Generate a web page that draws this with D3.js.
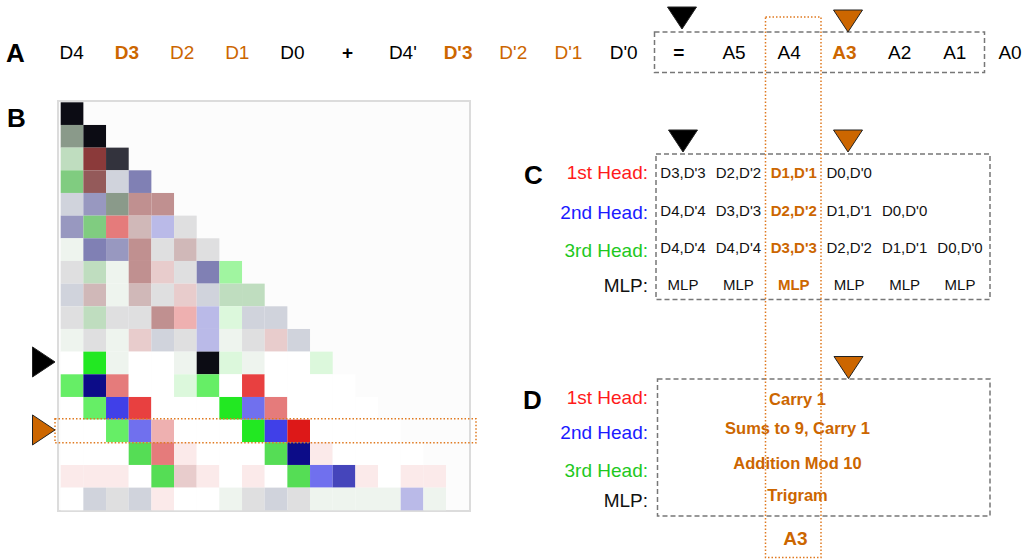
<html>
<head>
<meta charset="utf-8">
<title>Addition circuit</title>
<script src="https://d3js.org/d3.v7.min.js"></script>
<style>
  body { margin: 0; background: #fff; }
  text { font-family: "Liberation Sans", Arial, sans-serif; }
</style>
</head>
<body>
<svg width="1028" height="559"></svg>
<script>
// ---- data ----
var tokensA = ["D4","D3","D2","D1","D0","+","D4'","D'3","D'2","D'1","D'0","=","A5","A4","A3","A2","A1","A0"];
var keyTokens = ["D3","D'3","A3"];          // bold orange
var relatedTokens = ["D2","D1","D'2","D'1"]; // orange
var opTokens = ["+","="];                    // bold black

var heads = ["1st Head:","2nd Head:","3rd Head:","MLP:"];
var headColors = ["#ff1a1a","#1a1aff","#1ec81e","#111"];

var head1 = ["D3,D'3","D2,D'2","D1,D'1","D0,D'0"];
var head2 = ["D4,D'4","D3,D'3","D2,D'2","D1,D'1","D0,D'0"];
var head3 = ["D4,D'4","D4,D'4","D3,D'3","D2,D'2","D1,D'1","D0,D'0"];
var mlpRow = ["MLP","MLP","MLP","MLP","MLP","MLP"];
var focusCol = 2;

var features = ["Carry 1","Sums to 9, Carry 1","Addition Mod 10","Trigram"];
var answer = "A3";

// attention pattern, one code per cell (lower triangle)
var attn = [
  "K",
  "qK",
  "mDk",
  "gdtP",
  "tpqrr",
  "pgfwvs",
  "ePprsws",
  "smerxsPl",
  "twewsxtmm",
  "smssrivntt",
  "esextsvesxt",
  ".Ge..eKne..n",
  "hNf..nh.R....",
  ".hBR...Gbf....",
  "..hbi...GBS....",
  "...jfy...jNy....",
  "yyy.jxy.y.jboy.yy",
  ".tsty..estseeeeve"
];
var markRow = 11, focusRow = 14;

var cellCodes = [".","K","k","q","m","g","G","h","j","l","n","e","s","t","P","p","v","b","B","N","o","D","d","r","w","x","y","R","S","f","i"];
var cellColors = ["#ffffff","#0c0c14","#33333d","#8a9a8a","#bfddbf","#80cc80","#22e822","#66ee66","#55dd55","#a0f5a0","#dcf8dc","#eef4ee","#dfdfe0","#d0d3dc","#8080b4","#9898c0","#babae8","#7070ee","#4040e8","#0c0c88","#4545bb","#8b3a3a","#945a5a","#c09090","#d0b8b8","#e8cccc","#fbeaea","#e84040","#dd1818","#e57b7b","#eeb0b0"];

// ---- drawing ----
var orange = "#cc6600";
var svg = d3.select("svg");
var color = d3.scaleOrdinal().domain(cellCodes).range(cellColors);

function tri(g, cx, cy, dir, fill) {
  // dir "down": tip at (cx,cy); "right": tip at (cx,cy)
  var pts = dir == "down"
    ? [[cx-14.5,cy-22],[cx+14.5,cy-22],[cx,cy]]
    : [[cx-22.5,cy-15],[cx-22.5,cy+15],[cx,cy]];
  g.append("path").attr("d", d3.line()(pts) + "Z")
    .attr("fill", fill).attr("stroke","#222").attr("stroke-width",1);
}

function panelLetter(t, x, y) {
  svg.append("text").attr("x",x).attr("y",y).text(t)
    .attr("font-size",26).attr("font-weight","bold").attr("fill","#000");
}

// --- A ---
panelLetter("A", 6, 62);
var xA = d3.scalePoint().domain(d3.range(tokensA.length)).range([71.7, 1010]);
svg.append("g").selectAll("text").data(tokensA).join("text")
  .attr("x",(d,i)=>xA(i)).attr("y",52)
  .attr("text-anchor","middle").attr("dominant-baseline","central")
  .attr("font-size",19)
  .attr("font-weight",d=>keyTokens.includes(d)||opTokens.includes(d)?"bold":"normal")
  .attr("fill",d=>keyTokens.includes(d)||relatedTokens.includes(d)?orange:"#000")
  .text(d=>d);

var dashed = {stroke:"#777","stroke-width":1.5,"stroke-dasharray":"5,3",fill:"none"};
function dashRect(x0,y0,x1,y1) {
  var r = svg.append("rect").attr("x",x0).attr("y",y0).attr("width",x1-x0).attr("height",y1-y0);
  for (var k in dashed) r.attr(k, dashed[k]);
}
dashRect(654.5,32,984.5,72.5);
tri(svg, 682, 29, "down", "#000");
tri(svg, 848, 32, "down", orange);

// --- B heatmap ---
panelLetter("B", 7, 127);
var n = attn.length;
var xB = d3.scaleBand().domain(d3.range(n)).range([60.7, 468.7]);
var yB = d3.scaleBand().domain(d3.range(n)).range([102.3, 510.3]);
svg.append("rect").attr("x",58).attr("y",101).attr("width",412).attr("height",410)
  .attr("fill","#fcfcfc").attr("stroke","#dcdcdc").attr("stroke-width",2);
var cells = [];
attn.forEach(function(row, r) {
  row.split("").forEach(function(c, col) { cells.push({r:r, c:col, code:c}); });
});
svg.append("g").selectAll("rect").data(cells).join("rect")
  .attr("x",d=>xB(d.c)).attr("y",d=>yB(d.r))
  .attr("width",xB.bandwidth()).attr("height",yB.bandwidth())
  .attr("fill",d=>color(d.code));

svg.append("rect").attr("x",55).attr("y",yB(focusRow)-1).attr("width",421).attr("height",yB.bandwidth()+1.5)
  .attr("fill","none").attr("stroke","#e07a20").attr("stroke-width",1.5).attr("stroke-dasharray","1.5,2");
tri(svg, 55, yB(markRow)+yB.bandwidth()/2-1, "right", "#000");
tri(svg, 55, yB(focusRow)+yB.bandwidth()/2-1, "right", orange);

// --- C ---
panelLetter("C", 524, 184);
var yLabC = d3.scaleOrdinal().domain(heads).range([172.3, 212.3, 250, 285.7]);
svg.append("g").selectAll("text").data(heads).join("text")
  .attr("x",648).attr("y",d=>yLabC(d))
  .attr("text-anchor","end").attr("dominant-baseline","central")
  .attr("font-size",19).attr("fill",(d,i)=>headColors[i]).text(d=>d);

var xC = d3.scalePoint().domain(d3.range(6)).range([683, 960]);
var yC = d3.scalePoint().domain(d3.range(4)).range([172.8, 284.5]);
[head1, head2, head3, mlpRow].forEach(function(row, r) {
  svg.append("g").selectAll("text").data(row).join("text")
    .attr("x",(d,i)=>xC(i)).attr("y",yC(r))
    .attr("text-anchor","middle").attr("dominant-baseline","central")
    .attr("font-size",15)
    .attr("font-weight",(d,i)=>i==focusCol?"bold":"normal")
    .attr("fill",(d,i)=>i==focusCol?orange:"#111")
    .text(d=>d);
});
dashRect(656,154,990,299.5);
tri(svg, 683, 152, "down", "#000");
tri(svg, 848, 152, "down", orange);

// --- D ---
panelLetter("D", 523, 409);
var yLabD = d3.scaleOrdinal().domain(heads).range([397.5, 432, 470, 500.5]);
svg.append("g").selectAll("text").data(heads).join("text")
  .attr("x",648).attr("y",d=>yLabD(d))
  .attr("text-anchor","end").attr("dominant-baseline","central")
  .attr("font-size",19).attr("fill",(d,i)=>headColors[i]).text(d=>d);

var yFeat = d3.scaleOrdinal().domain(features).range([398.5, 427.5, 462.5, 494.5]);
svg.append("g").selectAll("text").data(features).join("text")
  .attr("x",797.5).attr("y",d=>yFeat(d))
  .attr("text-anchor","middle").attr("dominant-baseline","central")
  .attr("font-size",16.5).attr("font-weight","bold").attr("fill",orange)
  .text(d=>d);
dashRect(657.5,379,990,516);
tri(svg, 848.5, 378.5, "down", orange);

svg.append("text").attr("x",795.5).attr("y",538.5)
  .attr("text-anchor","middle").attr("dominant-baseline","central")
  .attr("font-size",19).attr("font-weight","bold").attr("fill",orange).text(answer);

// orange dotted column through A4 / focus column
svg.append("rect").attr("x",765.5).attr("y",17).attr("width",55.5).attr("height",540.5)
  .attr("fill","none").attr("stroke","#e07a20").attr("stroke-width",1.5).attr("stroke-dasharray","1.5,2");
</script>
</body>
</html>
